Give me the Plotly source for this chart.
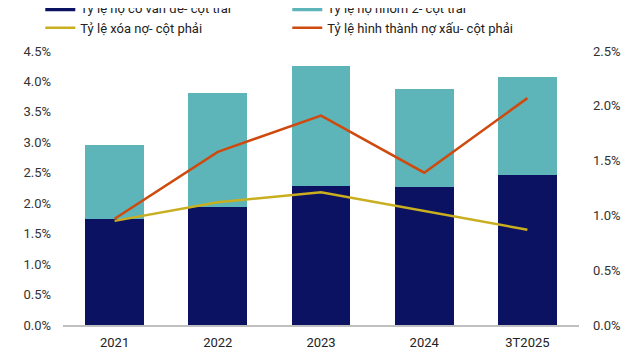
import plotly.graph_objects as go

categories = ["2021", "2022", "2023", "2024", "3T2025"]
no_co_van_de = [1.74, 1.93, 2.29, 2.26, 2.47]          # left axis, %
no_nhom_2 = [1.22, 1.88, 1.96, 1.62, 1.61]             # left axis, % (stacked)
xoa_no = [0.95, 1.12, 1.21, 1.04, 0.87]                # right axis, %
hinh_thanh_no_xau = [0.97, 1.58, 1.91, 1.39, 2.07]     # right axis, %

names = [
    "Tỷ lệ nợ có vấn đề- cột trái",
    "Tỷ lệ nợ nhóm 2- cột trái",
    "Tỷ lệ xóa nợ- cột phải",
    "Tỷ lệ hình thành nợ xấu- cột phải",
]
NAVY = "#0B1261"
TEAL = "#5DB5BA"
GOLD = "#C9AE1F"
ORANGE = "#CF4A0E"

fig = go.Figure()
fig.add_trace(go.Bar(x=categories, y=[v / 100 for v in no_co_van_de], name=names[0],
                     marker=dict(color=NAVY, line=dict(width=0)), showlegend=False))
fig.add_trace(go.Bar(x=categories, y=[v / 100 for v in no_nhom_2], name=names[1],
                     marker=dict(color=TEAL, line=dict(width=0)), showlegend=False))
# legend-only stand-ins so bar legend symbols are wide rectangles
fig.add_trace(go.Scatter(x=[None], y=[None], mode="lines", name=names[0],
                         line=dict(color=NAVY, width=7)))
fig.add_trace(go.Scatter(x=[None], y=[None], mode="lines", name=names[1],
                         line=dict(color=TEAL, width=7)))
fig.add_trace(go.Scatter(x=categories, y=[v / 100 for v in xoa_no], name=names[2],
                         mode="lines", line=dict(color=GOLD, width=2.5), yaxis="y2"))
fig.add_trace(go.Scatter(x=categories, y=[v / 100 for v in hinh_thanh_no_xau], name=names[3],
                         mode="lines", line=dict(color=ORANGE, width=2.5), yaxis="y2"))

font = dict(family="Roboto, Arial, sans-serif", size=13, color="#333333")
fig.update_layout(
    width=632, height=352,
    barmode="stack", bargap=0.43,
    margin=dict(l=55, r=61, t=43, b=35, autoexpand=False),
    paper_bgcolor="white", plot_bgcolor="white",
    font=font,
    xaxis=dict(showgrid=False, showline=True, linecolor="#BFBFBF", linewidth=2,
               ticks="", tickfont=dict(size=13, color="#222222"), ticklabelstandoff=4),
    yaxis=dict(range=[0, 0.045], dtick=0.005, tickformat=".1%", showgrid=False,
               zeroline=False, showline=False, ticklabelstandoff=11,
               tickfont=dict(size=13, color="#333333")),
    yaxis2=dict(range=[0, 0.025], dtick=0.005, tickformat=".1%", showgrid=False,
                zeroline=False, showline=False, overlaying="y", side="right",
                ticklabelstandoff=13, tickfont=dict(size=13, color="#333333")),
    legend=dict(orientation="h", x=-0.044, xanchor="left", y=1.212, yanchor="top",
                entrywidth=202, entrywidthmode="pixels", traceorder="normal",
                font=dict(size=13, color="#222222"), bgcolor="rgba(0,0,0,0)"),
    showlegend=True,
)
fig.write_html("out.html")
